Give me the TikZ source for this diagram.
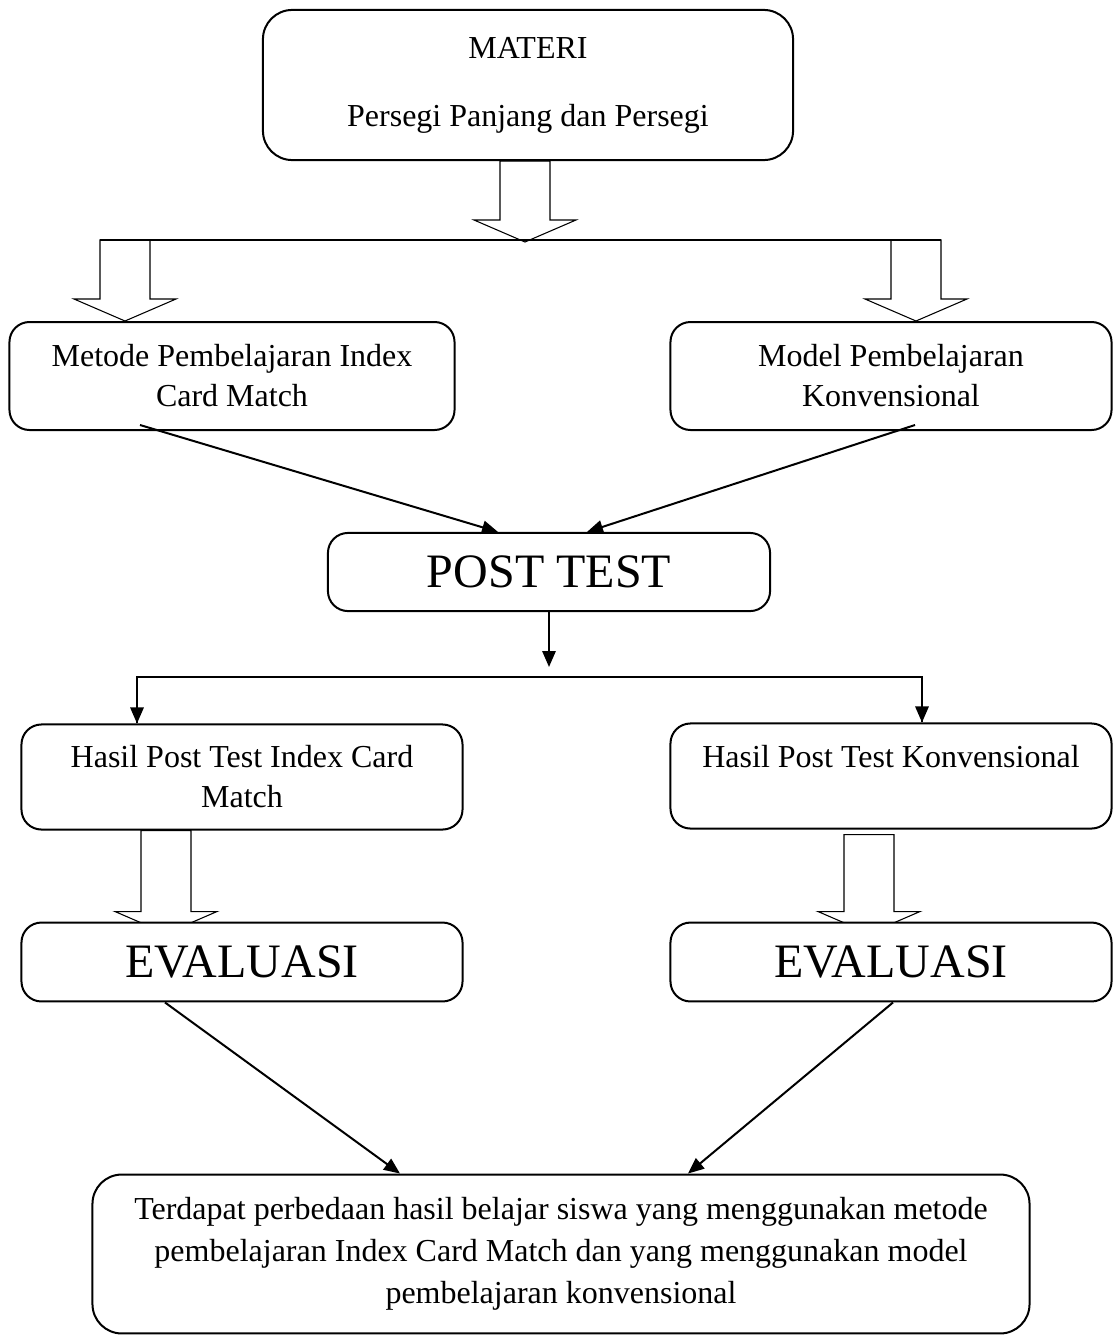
\documentclass[tikz,border=0pt]{standalone}
\usepackage{fontspec}
\setmainfont{Liberation Serif}
\usetikzlibrary{arrows.meta,calc,backgrounds}

\newcommand{\fatarrow}[2]{%
  \draw[fill=white] ($(#1)+(-25,0)$) -- ($(#2)+(-25,-22)$) -- ($(#2)+(-51,-22)$) -- (#2)
    -- ($(#2)+(51,-22)$) -- ($(#2)+(25,-22)$) -- ($(#1)+(25,0)$) -- cycle;}

\begin{document}
\begin{tikzpicture}[x=0.375pt,y=-0.375pt,line width=0.75pt,
  box/.style={draw,rounded corners=7.5pt,fill=white,align=center,
    minimum width=165.4pt,font=\fontsize{12}{15}\selectfont},
  bigbox/.style={box,font=\fontsize{18}{21}\selectfont},
  arr/.style={-{Triangle[length=6pt,width=5pt]}}]
\useasboundingbox (0,0) rectangle (1113,1339);
%\draw[help lines] (0,0) grid[step=100] (1113,1339);
\node[box,rounded corners=11pt,minimum width=198.8pt,minimum height=56.3pt] (materi) at (528,85)
  {MATERI\\[10.5pt]Persegi Panjang dan Persegi};
\node[box,minimum width=166.9pt,minimum height=40.5pt] (metode) at (232,376)
  {Metode Pembelajaran Index\\Card Match};
\node[box,minimum height=40.5pt] (model) at (891,376)
  {Model Pembelajaran\\Konvensional};
\node[bigbox,minimum width=165.8pt,minimum height=29.3pt] (posttest) at (549,572) {POST TEST};
\node[box,minimum height=39.4pt] (hasilicm) at (242,777)
  {Hasil Post Test Index Card\\Match};
\node[box,minimum height=39.4pt] (hasilkonv) at (891,776)
  {Hasil Post Test Konvensional\\\mbox{}};
\node[bigbox,minimum height=29.6pt] (evalicm) at (242,962) {EVALUASI};
\node[bigbox,minimum height=29.6pt] (evalkonv) at (891,962) {EVALUASI};
\node[box,rounded corners=11pt,minimum width=351.4pt,minimum height=59.6pt,
  font=\fontsize{12}{15.75}\selectfont] (hasil) at (561,1254)
  {Terdapat perbedaan hasil belajar siswa yang menggunakan metode\\
   pembelajaran Index Card Match dan yang menggunakan model\\
   pembelajaran konvensional};

\coordinate (tfat) at (525,242);
\coordinate (lfat) at (125,240);
\coordinate (rfat) at (916,240);
\coordinate (split) at (549,677);
\begin{scope}[on background layer]
\fatarrow{materi.south -| tfat}{tfat}
\fatarrow{lfat}{metode.north -| lfat}
\fatarrow{rfat}{model.north -| rfat}
\fatarrow{hasilicm.south -| 166,0}{$(evalicm.north -| 166,0)+(0,12)$}
\fatarrow{$(hasilkonv.south -| 869,0)+(0,5)$}{$(evalkonv.north -| 869,0)+(0,12)$}
\end{scope}
\draw ($(lfat)+(-25,0)$) -- ($(rfat)+(25,0)$);

\draw[arr] ($(metode.south)+(-92,-6)$) -- ($(posttest.north)+(-51,0)$);
\draw[arr] ($(model.south)+(24,-6)$) -- ($(posttest.north)+(38,0)$);
\draw[arr] (posttest) -- ($(split)+(0,-10)$);
\draw (hasilicm.north -| 137,0) |- (split) -| (hasilkonv.north -| 922,0);
\draw[arr] (split -| 137,0) -- (hasilicm.north -| 137,0);
\draw[arr] (split -| 922,0) -- (hasilkonv.north -| 922,0);
\draw[arr] ($(evalicm.south)+(-77,0)$) -- ($(hasil.north)+(-161,0)$);
\draw[arr] ($(evalkonv.south)+(2,0)$) -- ($(hasil.north)+(127,0)$);
\end{tikzpicture}
\end{document}
